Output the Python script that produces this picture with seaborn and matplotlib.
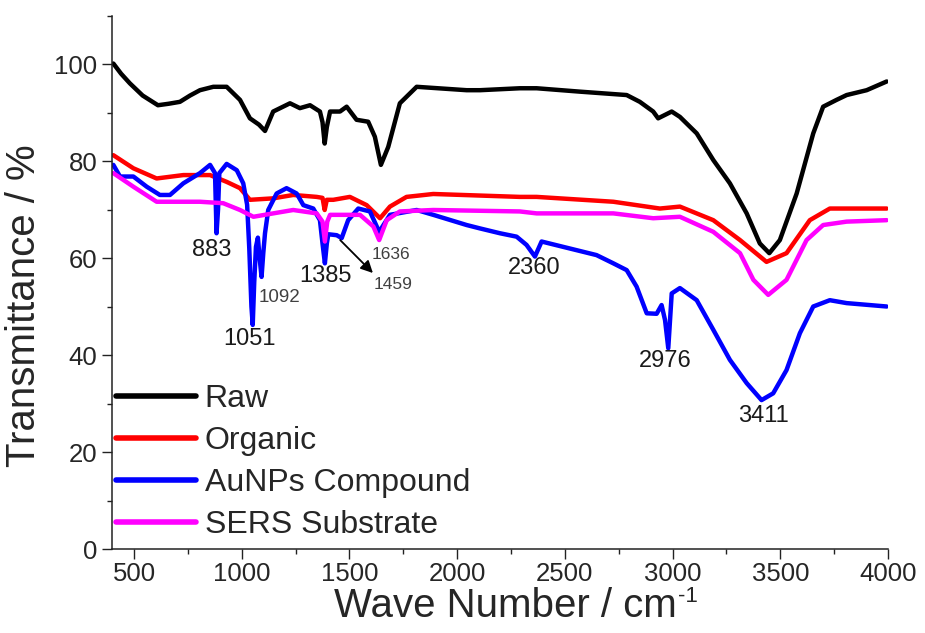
import numpy as np
import pandas as pd
import matplotlib
matplotlib.use("Agg")
import matplotlib.pyplot as plt
import seaborn as sns
from matplotlib.ticker import MultipleLocator

# FTIR spectra (wave number in cm-1, transmittance in %)
raw_x = [404, 440, 481, 540, 611, 660, 713, 760, 806, 868, 930, 992, 1038, 1080, 1108,
         1146, 1224, 1270, 1317, 1363, 1375, 1385, 1395, 1410, 1456, 1487, 1533, 1587,
         1618, 1646, 1680, 1734, 1812, 2044, 2106, 2291, 2369, 2570, 2787, 2848, 2910,
         2933, 2996, 3034, 3112, 3189, 3266, 3344, 3405, 3449, 3498, 3576, 3653, 3699,
         3761, 3808, 3901, 3994]
raw_y = [100.1, 98.0, 96.0, 93.5, 91.5, 91.8, 92.2, 93.5, 94.6, 95.3, 95.3, 92.6, 88.8,
         87.5, 86.2, 90.2, 91.9, 90.9, 91.5, 90.2, 88.0, 83.6, 87.0, 90.2, 90.2, 91.2,
         88.5, 88.1, 85.0, 79.2, 82.9, 91.9, 95.3, 94.6, 94.6, 95.0, 95.0, 94.3, 93.6,
         92.2, 90.2, 88.8, 90.2, 89.1, 85.7, 80.2, 75.4, 69.2, 63.0, 61.0, 63.7, 73.3,
         85.7, 91.2, 92.6, 93.6, 94.6, 96.4]

org_x = [404, 497, 605, 729, 853, 930, 992, 1038, 1146, 1239, 1348, 1375, 1385, 1395,
         1425, 1502, 1580, 1642, 1688, 1765, 1889, 2291, 2369, 2725, 2941, 3034, 3189,
         3313, 3436, 3529, 3637, 3730, 3994]
org_y = [81.2, 78.5, 76.4, 77.1, 77.1, 75.7, 74.4, 72.0, 72.3, 73.0, 72.6, 72.4, 69.9,
         72.0, 72.0, 72.6, 70.9, 68.2, 70.6, 72.6, 73.2, 72.6, 72.6, 71.6, 70.2, 70.6,
         67.8, 63.7, 59.2, 61.0, 67.8, 70.2, 70.2]

au_x = [404, 435, 497, 559, 620, 667, 729, 806, 853, 876, 883, 890, 896, 930, 977, 1007,
        1025, 1035, 1045, 1051, 1058, 1066, 1075, 1083, 1092, 1100, 1108, 1123, 1162,
        1208, 1255, 1286, 1332, 1363, 1375, 1386, 1395, 1402, 1441, 1464, 1494, 1541,
        1595, 1638, 1688, 1812, 1889, 2044, 2106, 2199, 2276, 2322, 2361, 2392, 2492,
        2647, 2725, 2787, 2833, 2880, 2926, 2949, 2965, 2980, 2996, 3034, 3112, 3189,
        3266, 3344, 3413, 3467, 3529, 3591, 3653, 3730, 3808, 3994]
au_y = [79.2, 76.8, 76.8, 74.7, 73.0, 73.0, 75.4, 77.5, 79.2, 77.5, 65.1, 70.0, 77.5,
        79.4, 78.1, 75.4, 71.0, 62.0, 50.0, 46.2, 55.0, 62.3, 64.2, 60.0, 56.1, 61.0,
        65.1, 69.9, 73.3, 74.4, 73.3, 70.9, 70.2, 67.8, 63.0, 58.9, 63.0, 64.9, 64.7,
        64.1, 67.8, 70.2, 69.6, 65.4, 68.9, 69.9, 68.9, 66.8, 66.1, 65.1, 64.4, 62.7,
        60.3, 63.4, 62.3, 60.6, 58.9, 57.5, 54.1, 48.6, 48.5, 50.3, 47.2, 41.4, 52.7,
        53.8, 51.3, 45.2, 39.0, 34.2, 30.7, 32.1, 36.9, 44.5, 50.0, 51.3, 50.7, 50.0]

sers_x = [404, 497, 605, 806, 914, 992, 1054, 1146, 1239, 1348, 1375, 1386, 1397, 1410,
          1549, 1611, 1638, 1673, 1734, 1889, 2291, 2369, 2725, 2910, 3034, 3189, 3313,
          3375, 3444, 3529, 3622, 3699, 3808, 3994]
sers_y = [77.5, 74.7, 71.6, 71.6, 71.3, 69.9, 68.5, 69.2, 69.9, 69.2, 67.5, 63.4, 67.5,
          68.9, 68.9, 66.5, 63.7, 67.8, 69.6, 69.9, 69.6, 69.2, 69.2, 68.2, 68.5, 65.4,
          61.0, 55.5, 52.4, 55.5, 63.7, 66.8, 67.5, 67.8]

series_names = ["Raw", "Organic", "AuNPs Compound", "SERS Substrate"]
series_colors = ["#000000", "#ff0000", "#0000ff", "#ff00ff"]

# peak labels
peak_labels = ["883", "1051", "1092", "1385", "1636", "1459", "2360", "2976", "3411"]
peak_x = [860, 1038, 1177, 1390, 1693, 1703, 2356, 2964, 3421]
peak_y = [61.6, 43.4, 51.9, 56.3, 60.8, 54.6, 57.9, 38.8, 27.4]
peak_size = [17, 17, 13.5, 17, 12.5, 12.5, 17, 17, 17]

sns.set_theme(style="ticks")
plt.rcParams["font.family"] = ["Liberation Sans", "DejaVu Sans"]

fig = plt.figure(figsize=(9.25, 6.33), dpi=100)
ax = fig.add_axes([0.1216, 0.1327, 0.8384, 0.8428])

all_x = [raw_x, org_x, au_x, sers_x]
all_y = [raw_y, org_y, au_y, sers_y]
for xs, ys, name, col in zip(all_x, all_y, series_names, series_colors):
    df = pd.DataFrame({"wave": xs, "trans": ys})
    sns.lineplot(data=df, x="wave", y="trans", color=col, lw=3.2, label=name,
                 sort=False, estimator=None, ax=ax)

for lab, px, py, fs in zip(peak_labels, peak_x, peak_y, peak_size):
    col = "#404040" if fs < 15 else "#1a1a1a"
    ax.text(px, py, lab, fontsize=fs, color=col, ha="center", va="center")

# arrow pointing to the 1459 band label
ax.annotate("", xy=(1618, 56.5), xytext=(1448, 64.1),
            arrowprops=dict(arrowstyle="-|>", color="black", lw=1.3, mutation_scale=18))

ax.set_xlim(400, 4000)
ax.set_ylim(0, 110)
ax.xaxis.set_major_locator(MultipleLocator(500))
ax.xaxis.set_minor_locator(MultipleLocator(250))
ax.yaxis.set_major_locator(MultipleLocator(20))
ax.yaxis.set_minor_locator(MultipleLocator(10))
ax.tick_params(which="major", direction="out", length=7, width=1, labelsize=18.5, color="#222222")
ax.tick_params(which="minor", direction="out", length=3.5, width=1, color="#222222")
ax.tick_params(axis="x", pad=2)
ax.tick_params(axis="y", pad=4)
for s in ["top", "right"]:
    ax.spines[s].set_visible(False)
for s in ["left", "bottom"]:
    ax.spines[s].set_linewidth(1.1)
    ax.spines[s].set_color("#222222")

ax.set_xlabel("Wave Number / cm", fontsize=29)
ax.set_ylabel("Transmittance / %", fontsize=29)
ax.xaxis.set_label_coords(0.506, -0.072)
ax.yaxis.set_label_coords(-0.09, 0.457)
# superscript -1 next to the unit
ax.annotate("-1", xy=(1, 1), xycoords=ax.xaxis.label, xytext=(1.5, 1),
            textcoords="offset points", fontsize=16, ha="left", va="top")

ax.legend(loc="lower left", bbox_to_anchor=(0.005, 0.017), frameon=False, fontsize=23,
          handlelength=2.5, handletextpad=0.26, labelspacing=0.375, borderpad=0,
          borderaxespad=0)
for line in ax.get_legend().get_lines():
    line.set_linewidth(4)

fig.savefig("out.png", dpi=100)
